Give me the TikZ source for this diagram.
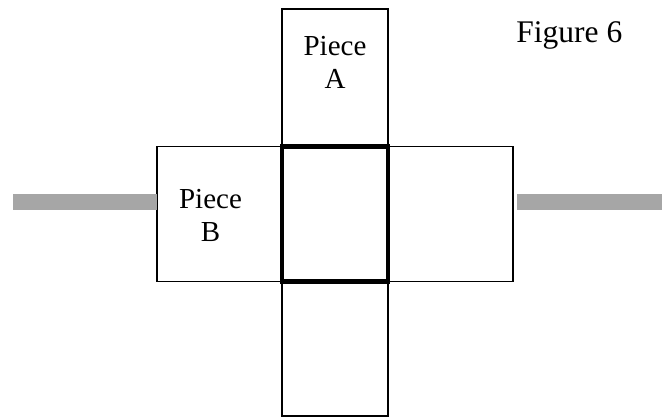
\documentclass[tikz,border=0pt]{standalone}
\usepackage{fontspec}
\setmainfont{Liberation Serif}
\usetikzlibrary{positioning}
\definecolor{railgray}{HTML}{A6A6A6}

\begin{document}
\begin{tikzpicture}[x=0.5pt, y=-0.5pt,
  piece/.style={draw, line width=0.75pt, inner sep=0pt, outer sep=0pt, minimum width=53pt},
  hub/.style={draw, line width=2.25pt, inner sep=0pt, outer sep=0pt, minimum width=53pt, minimum height=67.5pt},
  rail/.style={fill=railgray, inner sep=0pt, outer sep=0pt, minimum height=8pt},
  tag/.style={font=\fontsize{14.5}{16.5}\selectfont, align=center, inner sep=0pt}]
  \useasboundingbox (0,0) rectangle (670,418);
  % the four arms round the hub
  \node[piece, minimum height=68.5pt] (armA) at (335,77.5) {};
  \node[piece, minimum width=62.5pt, minimum height=67.5pt] (armB) at (219.5,214) {};
  \node[piece, minimum width=62.5pt, minimum height=67.5pt] (armE) at (450.5,214) {};
  \node[piece, minimum height=67.25pt] (armS) at (335,348.75) {};
  \node[hub] (hub) at (335,214) {};
  % rails on either side
  \node[rail, minimum width=72pt] (railL) at (85,202) {};
  \node[rail, minimum width=72.5pt] (railR) at (589.5,202) {};
  % labels
  \node[tag, anchor=base] (labA) at (335,88) {Piece\\A};
  \node[tag, anchor=base] (labB) at (210.5,241) {Piece\\B};
  \node[anchor=base west, inner sep=0pt, font=\fontsize{15.75}{18}\selectfont] (fig) at (516,42) {Figure 6};
\end{tikzpicture}
\end{document}
